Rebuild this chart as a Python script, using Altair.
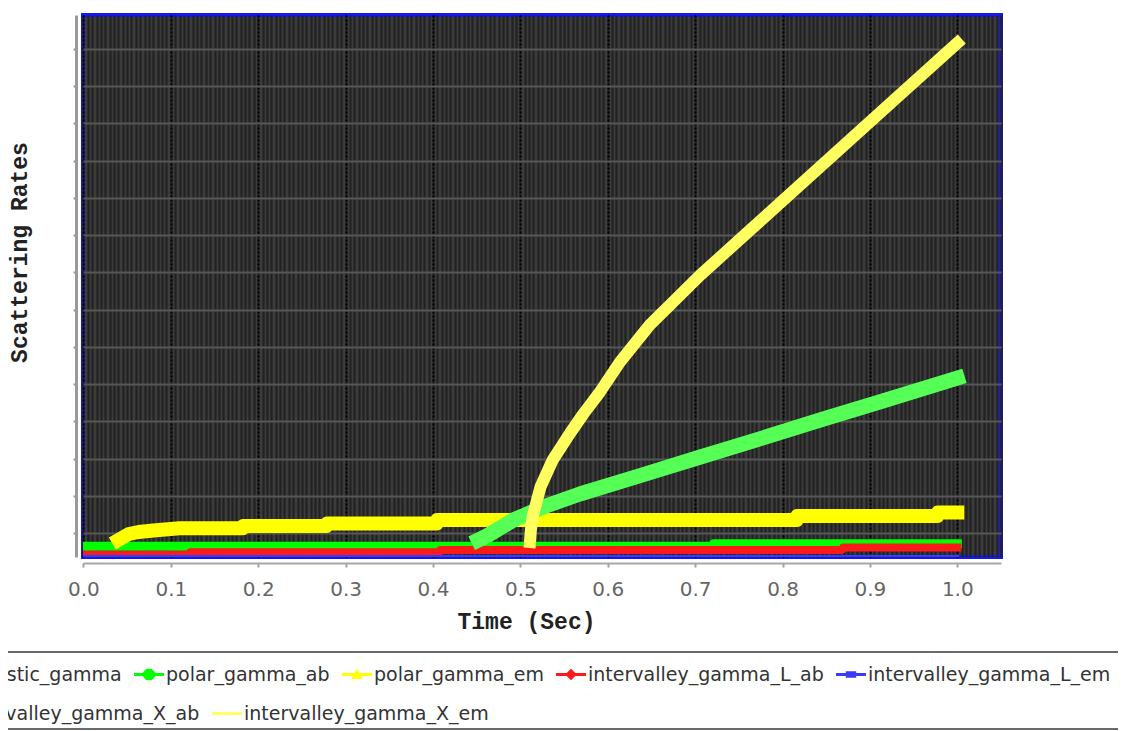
import altair as alt
import pandas as pd

series = ["acoustic_gamma", "polar_gamma_ab", "polar_gamma_em",
          "intervalley_gamma_L_ab", "intervalley_gamma_L_em",
          "intervalley_gamma_X_ab", "intervalley_gamma_X_em"]

acoustic_t = [0.0, 1.0]
acoustic_y = [0.37, 0.37]

polar_ab_t = [0.0, 0.720, 0.721, 1.0]
polar_ab_y = [0.646, 0.646, 0.710, 0.710]

polar_em_t = [0.040, 0.052, 0.063, 0.080, 0.110, 0.182, 0.183, 0.278, 0.279,
              0.404, 0.405, 0.816, 0.817, 0.977, 0.978, 1.0]
polar_em_y = [0.812, 0.973, 1.027, 1.067, 1.126, 1.126, 1.188, 1.188, 1.255,
              1.255, 1.349, 1.349, 1.456, 1.456, 1.550, 1.550]

L_ab_t = [0.0, 0.121, 0.122, 0.407, 0.408, 0.868, 0.869, 1.0]
L_ab_y = [0.417, 0.417, 0.482, 0.482, 0.544, 0.544, 0.611, 0.611]

L_em_t = [0.0, 1.0]
L_em_y = [0.37, 0.37]

X_ab_t = [0.452, 0.462, 0.492, 0.530, 0.568, 0.637, 0.706, 0.774, 0.843, 0.911, 1.0]
X_ab_y = [0.812, 0.928, 1.349, 1.733, 2.047, 2.541, 3.040, 3.529, 4.034, 4.517, 5.161]

X_em_t = [0.511, 0.512, 0.514, 0.523, 0.537, 0.557, 0.572, 0.591, 0.614, 0.648,
          0.706, 0.763, 0.820, 0.877, 0.934, 1.0]
X_em_y = [0.758, 1.081, 1.430, 2.235, 2.960, 3.685, 4.195, 4.785, 5.591, 6.584,
          7.926, 9.134, 10.342, 11.550, 12.758, 14.154]

x_ticks = [0.0, 0.1, 0.2, 0.3, 0.4, 0.5, 0.6, 0.7, 0.8, 0.9, 1.0]
x_minor = [round(i * 0.005, 3) for i in range(0, 211)]
y_ticks = list(range(1, 15))

colors = ["#ff55ff", "#00ff00", "#ffff00", "#ff1a1a", "#3a3aff", "#55ff55", "#ffff60"]
widths = [3, 9, 14, 8, 3, 15, 12]
line = "M -1.15 -0.11 L 1.15 -0.11 L 1.15 0.11 L -1.15 0.11 Z "
shapes = [
    line + "M -0.4 -0.4 L 0.4 -0.4 L 0.4 0.4 L -0.4 0.4 Z",
    line + "M -0.2 -0.45 L 0.2 -0.45 L 0.45 -0.2 L 0.45 0.2 L 0.2 0.45 L -0.2 0.45 L -0.45 0.2 L -0.45 -0.2 Z",
    line + "M 0 -0.45 L 0.45 0.35 L -0.45 0.35 Z",
    line + "M 0 -0.45 L 0.45 0 L 0 0.45 L -0.45 0 Z",
    line + "M -0.4 -0.25 L 0.4 -0.25 L 0.4 0.25 L -0.4 0.25 Z",
    line + "M 0 -0.45 L 0.45 0.35 L -0.45 0.35 Z",
    line,
]

parts = [
    (series[0], acoustic_t, acoustic_y),
    (series[1], polar_ab_t, polar_ab_y),
    (series[2], polar_em_t, polar_em_y),
    (series[3], L_ab_t, L_ab_y),
    (series[4], L_em_t, L_em_y),
    (series[5], X_ab_t, X_ab_y),
    (series[6], X_em_t, X_em_y),
]
rows = []
for name, ts, ys in parts:
    for t, y in zip(ts, ys):
        rows.append({"series": name, "curve": name, "t": t, "rate": y})
df = pd.DataFrame(rows)

xscale = alt.Scale(domain=[-0.0005, 1.05], nice=False, zero=False)
yscale = alt.Scale(domain=[0.356, 14.906], nice=False, zero=False)

title_font = "Liberation Mono"

y_axis = alt.Axis(
    orient="left", values=y_ticks, labels=False, ticks=True, tickSize=3,
    tickColor="#999999", tickWidth=2, domain=True, domainColor="#999999",
    domainWidth=3, grid=True, gridColor="#575757", gridWidth=2, offset=7,
    title="Scattering Rates", titleFont=title_font, titleFontSize=23,
    titleFontWeight="bold", titleColor="#222222", titleX=-50, titleY=237,
    titleBaseline="alphabetic", titleAlign="center", titleAngle=270)

# line styling scales use the series list in reverse order so that their
# (disabled) legends are not merged with the visible key legends
rev_series = series[::-1]
lines = alt.Chart(df).mark_line(clip=True, strokeCap="square", strokeJoin="round").encode(
    x=alt.X("t:Q", scale=xscale, axis=alt.Axis(
        orient="bottom", values=x_minor, labels=False, ticks=False, domain=False,
        grid=True, gridColor="#222222", gridWidth=2.2, title=None)),
    y=alt.Y("rate:Q", scale=yscale, axis=y_axis, title="Scattering Rates"),
    stroke=alt.Stroke("curve:N", title="curves",
                      scale=alt.Scale(domain=rev_series, range=colors[::-1]), legend=None),
    strokeWidth=alt.StrokeWidth("curve:N", title="curves",
                                scale=alt.Scale(type="ordinal", domain=rev_series, range=widths[::-1]),
                                legend=None),
)

label_style = dict(symbolSize=676, symbolStrokeWidth=0, symbolOpacity=1,
                   labelFont="DejaVu Sans", labelFontSize=19, labelColor="#333333",
                   labelLimit=400, labelOffset=4, columnPadding=12)

# first legend row; its frame spans both rows (blank title below keeps room for row 2)
leg1 = alt.Legend(orient="none", legendX=-161.5, legendY=637, direction="horizontal",
                  columns=5, padding=9.5, strokeColor="#6a6a6a",
                  titleOrient="bottom", titleFontSize=20, titlePadding=15,
                  **label_style)
# second legend row (no frame)
leg2 = alt.Legend(orient="none", legendX=-152, legendY=685.5, direction="horizontal",
                  columns=2, padding=0, symbolType=line, **label_style)

row1 = series[:5]
row2 = series[5:]

keys1 = alt.Chart(df).transform_filter("datum.t > 5").mark_point(filled=True).encode(
    x=alt.X("t:Q", scale=xscale, axis=alt.Axis(
        orient="bottom", values=x_ticks, format=".1f", labelFlush=False,
        grid=True, gridColor="#000000", gridDash=[2, 2], gridWidth=2,
        domainColor="#a8a8a8", domainWidth=2, tickColor="#a0a0a0", tickWidth=2,
        tickSize=4, offset=6, labelFont="DejaVu Sans", labelFontSize=20,
        labelColor="#666666", labelPadding=12,
        title="Time (Sec)", titleFont=title_font, titleFontSize=23,
        titleFontWeight="bold", titleColor="#222222", titleX=443, titleY=65,
        titleBaseline="alphabetic", titleAlign="center")),
    y=alt.Y("rate:Q", scale=yscale, axis=y_axis, title="Scattering Rates"),
    color=alt.Color("series:N", title="\u00a0", scale=alt.Scale(domain=row1, range=colors[:5]), legend=leg1),
    shape=alt.Shape("series:N", title="\u00a0", scale=alt.Scale(domain=row1, range=shapes[:5]), legend=leg1),
)

keys2 = alt.Chart(df).transform_filter("datum.t > 5").mark_point(filled=True).encode(
    x=alt.X("t:Q", scale=xscale, axis=None),
    y=alt.Y("rate:Q", scale=yscale, axis=y_axis, title="Scattering Rates"),
    fill=alt.Fill("series:N", title=None, scale=alt.Scale(domain=row2, range=colors[5:]), legend=leg2),
)

chart = alt.layer(lines, keys1, keys2).resolve_axis(x="independent").properties(
    width=918, height=542,
    autosize=alt.AutoSizeParams(type="none"),
    padding={"left": 75, "top": 7, "right": 117, "bottom": 174},
    background="white",
).configure_view(fill="#3c3c3c", stroke="#1515ff", strokeWidth=4
).configure_legend(strokeWidth=2)

chart.save("out.html", embed_options={"renderer": "svg", "actions": False})
